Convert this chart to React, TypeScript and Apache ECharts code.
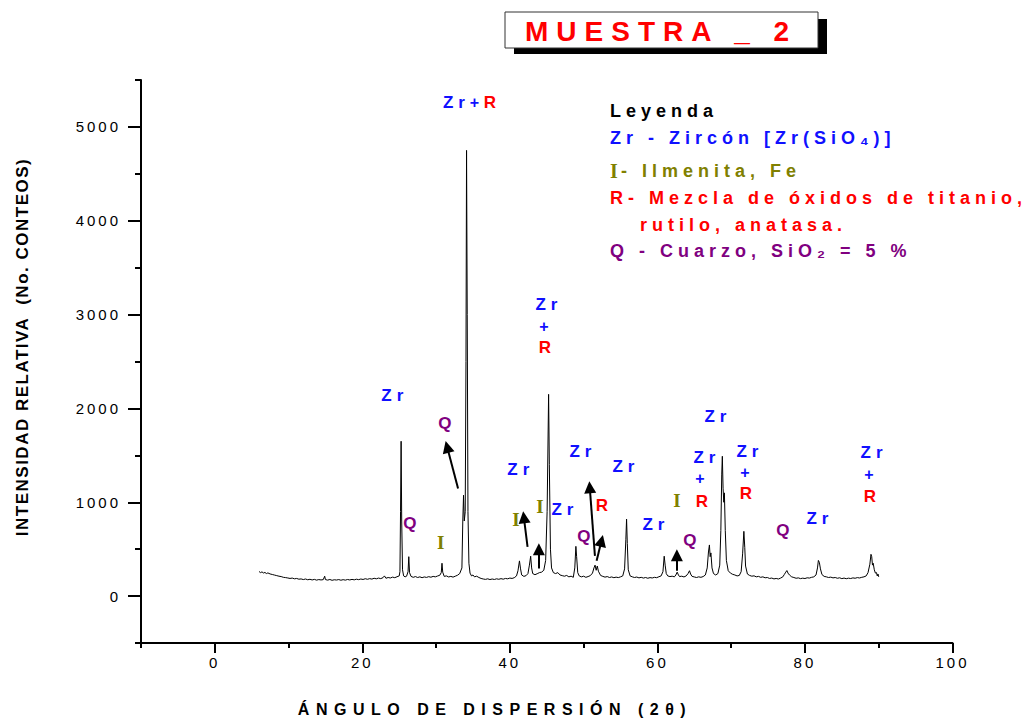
import React, { useEffect, useRef } from 'react';
import * as echarts from 'echarts';

// 2θ (degrees), intensity (counts)
const scan: [number, number][] = [
  [6.0, 262], [6.2, 250], [6.4, 258], [6.6, 246], [6.8, 252], [7.0, 240], [7.2, 247], [7.5, 236], [7.8, 230],
  [8.1, 224], [8.4, 218], [8.7, 212], [9.0, 208], [9.3, 200], [9.6, 197], [9.9, 193], [10.2, 188], [10.5, 192],
  [10.8, 184], [11.1, 188], [11.4, 180], [11.7, 183], [12.0, 176], [12.3, 182], [12.6, 174], [12.9, 179],
  [13.2, 172], [13.5, 178], [13.8, 170], [14.1, 176], [14.4, 172], [14.7, 175], [14.9, 212], [15.0, 176],
  [15.3, 170], [15.6, 177], [15.9, 168], [16.2, 174], [16.5, 171], [16.8, 176], [17.1, 169], [17.4, 175],
  [17.7, 170], [18.0, 177], [18.3, 172], [18.6, 178], [18.9, 173], [19.2, 180], [19.5, 175], [19.8, 182],
  [20.1, 177], [20.4, 185], [20.7, 179], [21.0, 186], [21.3, 181], [21.6, 190], [21.9, 184], [22.2, 192],
  [22.5, 186], [22.8, 196], [23.0, 215], [23.2, 190], [23.5, 198], [23.8, 193], [24.1, 202], [24.4, 196],
  [24.7, 206], [25.0, 215], [25.1, 260], [25.18, 900], [25.26, 1650], [25.34, 800], [25.45, 280], [25.6, 215],
  [25.8, 205], [26.0, 212], [26.2, 260], [26.3, 420], [26.4, 250], [26.6, 210], [26.9, 200], [27.2, 208],
  [27.5, 198], [27.8, 205], [28.1, 196], [28.4, 204], [28.7, 199], [29.0, 207], [29.3, 201], [29.6, 210],
  [29.9, 205], [30.2, 214], [30.5, 222], [30.7, 250], [30.8, 350], [30.9, 255], [31.1, 210], [31.4, 215],
  [31.7, 204], [32.0, 210], [32.3, 202], [32.6, 212], [32.9, 222], [33.2, 240], [33.5, 300], [33.62, 800],
  [33.72, 1075], [33.82, 800], [33.95, 900], [34.05, 2500], [34.13, 4750], [34.22, 3000], [34.32, 900],
  [34.45, 350], [34.6, 245], [34.8, 215], [35.0, 225], [35.2, 205], [35.5, 212], [35.8, 198], [36.1, 188],
  [36.4, 182], [36.7, 178], [37.0, 184], [37.3, 176], [37.6, 182], [37.9, 177], [38.2, 184], [38.5, 179],
  [38.8, 186], [39.1, 180], [39.4, 188], [39.7, 184], [40.0, 192], [40.3, 188], [40.6, 196], [40.9, 215],
  [41.1, 270], [41.3, 375], [41.45, 290], [41.6, 225], [41.9, 210], [42.2, 218], [42.45, 240], [42.65, 330],
  [42.82, 425], [42.95, 300], [43.1, 240], [43.4, 228], [43.7, 238], [44.0, 250], [44.3, 255], [44.6, 275],
  [44.85, 380], [45.05, 900], [45.25, 2150], [45.35, 1400], [45.5, 500], [45.65, 300], [45.9, 250], [46.2, 240],
  [46.5, 250], [46.8, 225], [47.1, 218], [47.4, 212], [47.7, 220], [48.0, 205], [48.3, 212], [48.6, 200],
  [48.8, 300], [48.95, 530], [49.05, 420], [49.2, 250], [49.4, 215], [49.7, 205], [50.0, 212], [50.3, 200],
  [50.6, 208], [50.9, 218], [51.2, 245], [51.4, 300], [51.55, 330], [51.7, 275], [51.85, 320], [52.0, 265],
  [52.3, 220], [52.6, 210], [52.9, 202], [53.2, 208], [53.5, 198], [53.8, 204], [54.1, 196], [54.4, 202],
  [54.7, 197], [55.0, 205], [55.3, 215], [55.55, 290], [55.72, 600], [55.82, 820], [55.92, 560], [56.05, 280],
  [56.3, 215], [56.6, 205], [56.9, 198], [57.2, 203], [57.5, 194], [57.8, 200], [58.1, 192], [58.4, 198],
  [58.7, 190], [59.0, 197], [59.3, 193], [59.6, 200], [59.9, 196], [60.2, 206], [60.5, 215], [60.75, 260],
  [60.92, 425], [61.05, 330], [61.2, 240], [61.4, 215], [61.7, 208], [62.0, 212], [62.3, 205], [62.5, 225],
  [62.68, 255], [62.85, 225], [63.0, 208], [63.3, 212], [63.6, 204], [63.9, 215], [64.15, 240], [64.35, 270],
  [64.5, 235], [64.7, 210], [65.0, 204], [65.3, 198], [65.6, 205], [65.9, 200], [66.2, 208], [66.5, 225],
  [66.75, 300], [66.92, 470], [67.05, 545], [67.15, 420], [67.25, 460], [67.4, 300], [67.6, 240], [67.9, 225],
  [68.2, 240], [68.45, 330], [68.6, 700], [68.72, 1300], [68.8, 1490], [68.9, 1150], [69.0, 1000], [69.08, 1100],
  [69.2, 700], [69.35, 380], [69.6, 270], [69.9, 245], [70.2, 232], [70.5, 225], [70.8, 215], [71.1, 220],
  [71.35, 260], [71.55, 450], [71.72, 690], [71.84, 520], [71.95, 320], [72.2, 235], [72.5, 220], [72.8, 212],
  [73.1, 216], [73.4, 205], [73.7, 210], [74.0, 200], [74.3, 205], [74.6, 195], [74.9, 198], [75.2, 188],
  [75.5, 192], [75.8, 183], [76.1, 188], [76.4, 182], [76.7, 192], [77.0, 205], [77.2, 230], [77.4, 255],
  [77.55, 272], [77.7, 245], [77.9, 225], [78.2, 205], [78.5, 198], [78.8, 190], [79.1, 194], [79.4, 186],
  [79.7, 191], [80.0, 187], [80.3, 195], [80.6, 192], [80.9, 200], [81.2, 205], [81.5, 225], [81.7, 300],
  [81.82, 380], [81.95, 360], [82.1, 290], [82.3, 230], [82.6, 210], [82.9, 205], [83.2, 198], [83.5, 202],
  [83.8, 194], [84.1, 198], [84.4, 190], [84.7, 195], [85.0, 186], [85.3, 192], [85.6, 185], [85.9, 191],
  [86.2, 187], [86.5, 194], [86.8, 190], [87.1, 197], [87.4, 193], [87.7, 200], [88.0, 205], [88.3, 215],
  [88.55, 250], [88.8, 340], [88.95, 445], [89.05, 420], [89.15, 330], [89.25, 350], [89.4, 280], [89.55, 245],
  [89.7, 250], [89.8, 215], [89.9, 235], [90.0, 205],
];

const xMajorTicks = [0, 20, 40, 60, 80, 100];
const yMajorTicks = [0, 1000, 2000, 3000, 4000, 5000];

// phase annotations, placed at [2θ, counts]
const zrLabels: [number, number][] = [
  [32.76, 5255], [24.41, 2138], [41.49, 1351], [47.46, 926], [45.29, 3106], [49.9, 1543], [55.73, 1383],
  [59.8, 766], [66.71, 1479], [68.2, 1915], [72.54, 1543], [82.03, 830], [89.36, 1532],
];
const plusLabels: [number, number][] = [
  [35.21, 5255], [44.61, 2872], [65.76, 1255], [71.86, 1319], [88.68, 1298],
];
const rLabels: [number, number][] = [
  [37.29, 5255], [44.75, 2649], [52.47, 968], [66.03, 1011], [72.0, 1096], [88.81, 1064],
];
const qLabels: [number, number][] = [
  [26.44, 777], [31.19, 1840], [50.03, 638], [64.41, 596], [77.02, 702],
];
const iLabels: [number, number][] = [
  [30.64, 574], [40.81, 819], [44.07, 957], [62.64, 1021],
];
const arrows: [[number, number], [number, number]][] = [
  [[32.98, 1146], [31.5, 1590]],
  [[42.4, 524], [41.9, 840]],
  [[43.93, 295], [43.93, 500]],
  [[51.53, 429], [50.83, 1160]],
  [[51.76, 376], [52.42, 590]],
  [[62.64, 269], [62.64, 435]],
];

const SANS = '"Liberation Sans", Arial, Helvetica, sans-serif';
const SERIF = '"Liberation Serif", "Times New Roman", serif';
const BLUE = '#1010ff';
const RED = '#ff0000';
const OLIVE = '#808000';
const PURPLE = '#800080';

const X_TITLE = 'ÁNGULO DE DISPERSIÓN (2θ)';
const Y_TITLE = 'INTENSIDAD RELATIVA  (No. CONTEOS)';
const TITLE = 'MUESTRA _ 2';

function spacingFor(s: string): number {
  if (s === TITLE) return 8;
  if (s === X_TITLE) return 6.5;
  if (s === Y_TITLE) return 1.5;
  if (/^-?\d+$/.test(s)) return 3;
  if (s === 'Zr') return 5;
  if (s.length > 4) return 5;
  return 0;
}

function applySpacing(root: HTMLElement) {
  root.querySelectorAll('text').forEach((t) => {
    const s = (t.textContent || '').trim();
    const v = spacingFor(s);
    if (v) t.setAttribute('letter-spacing', String(v));
  });
}

function labelSeries(name: string, data: [number, number][], text: string, color: string, fontSize: number, fontFamily: string) {
  return {
    type: 'scatter',
    name,
    data,
    xAxisIndex: 0,
    yAxisIndex: 0,
    symbol: 'circle',
    symbolSize: 1,
    silent: true,
    z: 5,
    itemStyle: { color: 'rgba(0,0,0,0)', opacity: 1 },
    label: {
      show: true,
      position: 'inside',
      formatter: text,
      color,
      opacity: 1,
      fontSize,
      fontWeight: 'bold',
      fontFamily,
      textBorderWidth: 0,
      textBorderColor: 'transparent',
    },
    emphasis: { disabled: true },
  };
}

export default function App() {
  const ref = useRef<HTMLDivElement>(null);
  useEffect(() => {
    if (!ref.current) return;
    const el = ref.current;
    const chart = echarts.init(el, undefined, { renderer: 'svg' });
    const axisLineStyle = { color: '#000', width: 2 };
    const legendFont = `bold 18px ${SANS}`;
    const plain = (v: number) => String(v);
    chart.setOption({
      animation: false,
      backgroundColor: '#fff',
      grid: { left: 141, right: 76.5, top: 80, bottom: 76 },
      xAxis: [
        {
          type: 'value', min: -10, max: 100, interval: 10, position: 'bottom',
          axisLine: { show: true, onZero: false, lineStyle: axisLineStyle },
          axisTick: { show: true, length: 5, lineStyle: axisLineStyle },
          axisLabel: { show: false }, splitLine: { show: false },
        },
        {
          type: 'value', min: -10, max: 100, position: 'bottom',
          axisLine: { show: false, onZero: false },
          axisTick: { show: true, length: 10, customValues: xMajorTicks, lineStyle: axisLineStyle },
          axisLabel: { show: true, customValues: xMajorTicks, formatter: plain, margin: 12, fontSize: 15, color: '#000', fontFamily: SANS },
          splitLine: { show: false },
        },
      ],
      yAxis: [
        {
          type: 'value', min: -500, max: 5500, interval: 500, position: 'left',
          axisLine: { show: true, onZero: false, lineStyle: axisLineStyle },
          axisTick: { show: true, length: 6, lineStyle: axisLineStyle },
          axisLabel: { show: false }, splitLine: { show: false },
        },
        {
          type: 'value', min: -500, max: 5500, position: 'left',
          axisLine: { show: false, onZero: false },
          axisTick: { show: true, length: 13, customValues: yMajorTicks, lineStyle: axisLineStyle },
          axisLabel: { show: true, customValues: yMajorTicks, formatter: plain, margin: 20, fontSize: 15, color: '#000', fontFamily: SANS },
          splitLine: { show: false },
        },
      ],
      series: [
        {
          type: 'line',
          name: 'scan',
          data: scan,
          xAxisIndex: 0,
          yAxisIndex: 0,
          symbol: 'none',
          showSymbol: false,
          silent: true,
          lineStyle: { color: '#000', width: 1 },
          z: 3,
          markLine: {
            silent: true,
            symbol: ['none', 'triangle'],
            symbolSize: 12,
            label: { show: false },
            lineStyle: { color: '#000', width: 2, type: 'solid', opacity: 1 },
            itemStyle: { color: '#000' },
            emphasis: { disabled: true },
            data: arrows.map(([a, b]) => [{ coord: a }, { coord: b }]),
          },
        },
        labelSeries('Zr', zrLabels, 'Zr', BLUE, 17, SANS),
        labelSeries('+', plusLabels, '+', BLUE, 16, SANS),
        labelSeries('R', rLabels, 'R', RED, 17, SANS),
        labelSeries('Q', qLabels, 'Q', PURPLE, 17, SANS),
        labelSeries('I', iLabels, 'I', OLIVE, 19, SERIF),
      ],
      graphic: [
        { type: 'rect', z: 10, shape: { x: 514, y: 19, width: 313, height: 35 }, style: { fill: '#000' } },
        { type: 'rect', z: 11, shape: { x: 505, y: 12, width: 313, height: 36 }, style: { fill: '#fff', stroke: '#333', lineWidth: 1 } },
        { type: 'text', z: 12, x: 525, y: 31, style: { text: TITLE, fill: RED, font: `bold 28px ${SANS}`, align: 'left', verticalAlign: 'middle' } },
        { type: 'text', z: 12, x: 610, y: 111, style: { text: 'Leyenda', fill: '#000', font: legendFont, verticalAlign: 'middle' } },
        { type: 'text', z: 12, x: 610, y: 138, style: { text: 'Zr - Zircón [Zr(SiO₄)]', fill: BLUE, font: legendFont, verticalAlign: 'middle' } },
        { type: 'text', z: 12, x: 610, y: 171, style: { text: 'I', fill: OLIVE, font: `bold 20px ${SERIF}`, verticalAlign: 'middle' } },
        { type: 'text', z: 12, x: 621, y: 171, style: { text: '- Ilmenita, Fe', fill: OLIVE, font: legendFont, verticalAlign: 'middle' } },
        { type: 'text', z: 12, x: 610, y: 198, style: { text: 'R- Mezcla de óxidos de titanio,', fill: RED, font: legendFont, verticalAlign: 'middle' } },
        { type: 'text', z: 12, x: 640, y: 225, style: { text: 'rutilo, anatasa.', fill: RED, font: legendFont, verticalAlign: 'middle' } },
        { type: 'text', z: 12, x: 610, y: 251, style: { text: 'Q - Cuarzo, SiO₂ = 5 %', fill: PURPLE, font: legendFont, verticalAlign: 'middle' } },
        { type: 'text', z: 12, x: 495, y: 709, style: { text: X_TITLE, fill: '#000', font: `bold 16px ${SANS}`, align: 'center', verticalAlign: 'middle' } },
        { type: 'text', z: 12, x: 22, y: 347, rotation: Math.PI / 2, style: { text: Y_TITLE, fill: '#000', font: `bold 17px ${SANS}`, align: 'center', verticalAlign: 'middle' } },
      ],
    });
    applySpacing(el);
    const onRendered = () => applySpacing(el);
    chart.on('rendered', onRendered);
    return () => {
      chart.off('rendered', onRendered);
      chart.dispose();
    };
  }, []);
  return (
    <div
      ref={ref}
      style={{ position: 'fixed', left: 0, top: 0, width: 1029, height: 719, background: '#fff' }}
    />
  );
}
